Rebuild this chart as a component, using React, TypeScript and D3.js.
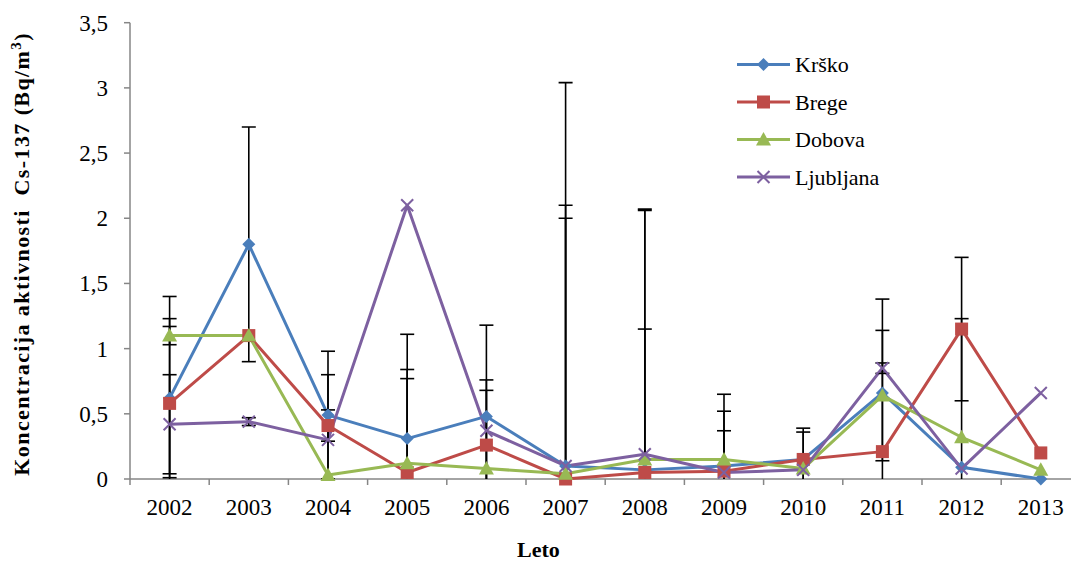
import React from "react";
import * as d3 from "d3";

const years = ["2002", "2003", "2004", "2005", "2006", "2007", "2008", "2009", "2010", "2011", "2012", "2013"];
const krsko = [0.62, 1.8, 0.49, 0.31, 0.48, 0.1, 0.07, 0.1, 0.15, 0.66, 0.09, 0.0];
const krskoErr = [0.61, 0.9, 0.49, 0.8, 0.7, 2.94, 2.0, 0.55, 0.24, 0.72, 0, 0];
const brege = [0.58, 1.1, 0.41, 0.05, 0.26, 0.0, 0.05, 0.06, 0.15, 0.21, 1.15, 0.2];
const bregeErr = [0.82, 0, 0.12, 0.72, 0.42, 0, 2.01, 0.31, 0.21, 0, 0.55, 0];
const dobova = [1.1, 1.1, 0.03, 0.12, 0.08, 0.04, 0.15, 0.15, 0.08, 0.64, 0.32, 0.07];
const dobovaErr = [0.07, 0, 0, 0.72, 0, 1.96, 1.0, 0.37, 0, 0.5, 0.91, 0];
const ljubljana = [0.42, 0.44, 0.3, 2.1, 0.37, 0.1, 0.19, 0.05, 0.07, 0.85, 0.08, 0.66];
const ljubljanaErr = [0.38, 0.03, 0.5, 0, 0.39, 2.0, 0, 0, 0, 0.04, 0, 0];
const yTicks = [0, 0.5, 1, 1.5, 2, 2.5, 3, 3.5];

const series = [
  { name: "Krško", values: krsko, err: krskoErr, color: "#4a7ebb", marker: "diamond" },
  { name: "Brege", values: brege, err: bregeErr, color: "#be4b48", marker: "square" },
  { name: "Dobova", values: dobova, err: dobovaErr, color: "#98b954", marker: "triangle" },
  { name: "Ljubljana", values: ljubljana, err: ljubljanaErr, color: "#7d60a0", marker: "x" },
];

const W = 1071;
const H = 563;
const x0 = 130;
const step = 79.2;
const x = d3.scaleBand<string>().domain(years).range([x0, x0 + step * years.length]).padding(0);
const y = d3.scaleLinear().domain([0, 3.5]).range([479, 22.7]);
const cx = (i: number) => (x(years[i]) as number) + x.bandwidth() / 2;
const fmt = (v: number) => String(v).replace(".", ",");
const FONT = '"Liberation Serif"';

function Marker({ type, color, px, py }: { type: string; color: string; px: number; py: number }) {
  if (type === "diamond") {
    const s = 6.5;
    return <path d={`M${px},${py - s}L${px + s},${py}L${px},${py + s}L${px - s},${py}Z`} fill={color} />;
  }
  if (type === "square") {
    const s = 6.5;
    return <rect x={px - s} y={py - s} width={2 * s} height={2 * s} fill={color} />;
  }
  if (type === "triangle") {
    const s = 7.5;
    return <path d={`M${px},${py - s}L${px + s},${py + s * 0.8}L${px - s},${py + s * 0.8}Z`} fill={color} />;
  }
  const s = 6;
  return (
    <path d={`M${px - s},${py - s}L${px + s},${py + s}M${px - s},${py + s}L${px + s},${py - s}`} stroke={color} strokeWidth={2} fill="none" />
  );
}

export default function App() {
  const line = d3
    .line<number>()
    .x((_, i) => cx(i))
    .y((d) => y(d));
  const axisColor = "#868686";
  const capW = 7;
  return (
    <svg width={W} height={H} style={{ position: "absolute", left: 0, top: 0 }}>
      <defs>
        <clipPath id="plot">
          <rect x={x0} y={y(3.5) - 2} width={W - x0} height={y(0) - y(3.5) + 2} />
        </clipPath>
      </defs>
      <rect width={W} height={H} fill="#fff" />
      {/* y axis */}
      <line x1={x0} x2={x0} y1={y(3.5)} y2={y(0)} stroke={axisColor} strokeWidth={1.5} />
      {yTicks.map((t) => (
        <g key={t}>
          <line x1={x0 - 6} x2={x0} y1={y(t)} y2={y(t)} stroke={axisColor} strokeWidth={1.5} />
          <text x={108} y={y(t) + 8} textAnchor="end" fontSize={23} style={{ fontFamily: FONT }}>
            {fmt(t)}
          </text>
        </g>
      ))}
      {/* x axis */}
      <line x1={x0} x2={W} y1={y(0)} y2={y(0)} stroke={axisColor} strokeWidth={1.5} />
      {years.map((yr, i) => (
        <g key={yr}>
          <line x1={x(yr)} x2={x(yr)} y1={y(0)} y2={y(0) + 6} stroke={axisColor} strokeWidth={1.5} />
          <text x={cx(i)} y={515} textAnchor="middle" fontSize={23} style={{ fontFamily: FONT }}>
            {yr}
          </text>
        </g>
      ))}
      {/* lines */}
      {series.map((s) => (
        <path key={s.name} d={line(s.values) || ""} fill="none" stroke={s.color} strokeWidth={3} strokeLinejoin="round" />
      ))}
      {/* error bars */}
      <g clipPath="url(#plot)">
        {series.map((s) =>
          s.values.map((v, i) => {
            const e = s.err[i];
            if (!e) return null;
            const px = cx(i);
            const hi = y(v + e);
            const lo = y(v - e);
            return (
              <g key={s.name + i} stroke="#000" strokeWidth={1.6}>
                <line x1={px} x2={px} y1={hi} y2={lo} />
                <line x1={px - capW} x2={px + capW} y1={hi} y2={hi} />
                <line x1={px - capW} x2={px + capW} y1={lo} y2={lo} />
              </g>
            );
          })
        )}
      </g>
      {/* markers */}
      {series.map((s) =>
        s.values.map((v, i) => <Marker key={s.name + i} type={s.marker} color={s.color} px={cx(i)} py={y(v)} />)
      )}
      {/* legend */}
      {series.map((s, k) => {
        const ly = 64.5 + k * 37.5;
        return (
          <g key={s.name}>
            <line x1={737} x2={790} y1={ly} y2={ly} stroke={s.color} strokeWidth={3} />
            <Marker type={s.marker} color={s.color} px={763.5} py={ly} />
            <text x={795} y={ly + 7.5} fontSize={22} style={{ fontFamily: FONT }}>
              {s.name}
            </text>
          </g>
        );
      })}
      {/* axis titles */}
      <text x={538.5} y={557} textAnchor="middle" fontSize={22} fontWeight="bold" style={{ fontFamily: FONT }}>
        Leto
      </text>
      <text
        transform={`translate(29,${(y(0) + y(3.5)) / 2 + 3}) rotate(-90)`}
        textAnchor="middle"
        fontSize={22}
        fontWeight="bold"
        letterSpacing={1.4}
        style={{ fontFamily: FONT }}
      >
        Koncentracija aktivnosti{"\u00a0\u00a0"}Cs-137 (Bq/m
        <tspan dy={-8} fontSize={15}>3</tspan>
        <tspan dy={8}>)</tspan>
      </text>
    </svg>
  );
}
